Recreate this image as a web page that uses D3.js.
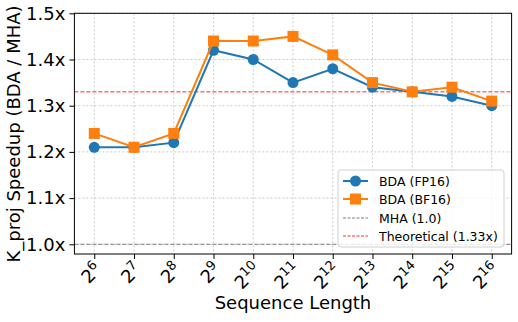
<!DOCTYPE html>
<html><head><meta charset="utf-8">
<script src="https://cdn.jsdelivr.net/npm/d3@7"></script>
<style>body{margin:0;background:#fff}svg{display:block}text{font-family:"DejaVu Sans",sans-serif}</style>
</head><body>
<svg id="c" width="518" height="322"></svg>
<script>
const exponents = [6,7,8,9,10,11,12,13,14,15,16];
const fp16 = [1.21,1.21,1.22,1.42,1.40,1.35,1.38,1.34,1.33,1.32,1.30];
const bf16 = [1.24,1.21,1.24,1.44,1.44,1.45,1.41,1.35,1.33,1.34,1.31];
const yTicks = [1.0,1.1,1.2,1.3,1.4,1.5];
const mhaLevel = 1.0, theoLevel = 1.33;
const legendLabels = ["BDA (FP16)","BDA (BF16)","MHA (1.0)","Theoretical (1.33x)"];

const svg = d3.select("#c");
const L=74.4, R=511.6, T=13.3, B=254;
const x = d3.scaleLinear().domain([5.5,16.5]).range([L,R]);
const y = d3.scaleLinear().domain([1.5-(B-T)/(244.3-13.3)*0.5,1.5]).range([B,T]);

// grid
const g = svg.append("g");
g.selectAll(".gx").data(exponents).join("line")
 .attr("x1",d=>x(d)).attr("x2",d=>x(d)).attr("y1",T).attr("y2",B)
 .attr("stroke","#b0b0b0").attr("stroke-width",0.8).attr("stroke-dasharray","2,2").attr("opacity",0.8);
g.selectAll(".gy").data(yTicks).join("line")
 .attr("x1",L).attr("x2",R).attr("y1",d=>y(d)).attr("y2",d=>y(d))
 .attr("stroke","#b0b0b0").attr("stroke-width",0.8).attr("stroke-dasharray","2,2").attr("opacity",0.8);

// reference lines
svg.append("line").attr("x1",L).attr("x2",R).attr("y1",y(mhaLevel)).attr("y2",y(mhaLevel))
 .attr("stroke","#808080").attr("stroke-width",1).attr("stroke-dasharray","4,2");
svg.append("line").attr("x1",L).attr("x2",R).attr("y1",y(theoLevel)).attr("y2",y(theoLevel))
 .attr("stroke","#ff2a2a").attr("stroke-width",1).attr("stroke-dasharray","4,2");

const line = d3.line().x((d,i)=>x(exponents[i])).y(d=>y(d));
svg.append("path").datum(fp16).attr("d",line).attr("fill","none").attr("stroke","#1f77b4").attr("stroke-width",2);
svg.selectAll(".c").data(fp16).join("circle").attr("cx",(d,i)=>x(exponents[i])).attr("cy",d=>y(d)).attr("r",5.5).attr("fill","#1f77b4");
svg.append("path").datum(bf16).attr("d",line).attr("fill","none").attr("stroke","#ff7f0e").attr("stroke-width",2);
const s=11;
svg.selectAll(".s").data(bf16).join("rect").attr("x",(d,i)=>x(exponents[i])-s/2).attr("y",d=>y(d)-s/2).attr("width",s).attr("height",s).attr("fill","#ff7f0e");

// axes
const yAxis = d3.axisLeft(y).tickValues(yTicks).tickFormat(d=>d.toFixed(1)+"x").tickSize(5).tickPadding(4);
const ya = svg.append("g").attr("transform",`translate(${L},0)`).call(yAxis);
ya.select(".domain").remove();
ya.selectAll("text").attr("font-size",18).attr("fill","#000").style("font-family","DejaVu Sans");
ya.selectAll("line").attr("stroke","#000").attr("stroke-width",1);

const xAxis = d3.axisBottom(x).tickValues(exponents).tickFormat("").tickSize(5);
const xa = svg.append("g").attr("transform",`translate(0,${B})`).call(xAxis);
xa.select(".domain").remove();
xa.selectAll("line").attr("stroke","#000");
exponents.forEach(e=>{
  const t = svg.append("text").attr("transform",`translate(${x(e)+8.5},${B+16.5}) rotate(-45)`)
   .attr("text-anchor","end").attr("font-size",18).attr("fill","#000");
  t.append("tspan").text("2");
  t.append("tspan").attr("dy",-7).attr("font-size",13).text(e);
});

// frame
svg.append("rect").attr("x",L).attr("y",T).attr("width",R-L).attr("height",B-T).attr("fill","none").attr("stroke","#000").attr("stroke-width",1);

svg.append("text").attr("x",(L+R)/2).attr("y",309).attr("text-anchor","middle").attr("font-size",18).text("Sequence Length");
svg.append("text").attr("transform",`translate(20,134) rotate(-90)`).attr("text-anchor","middle").attr("font-size",18).text("K_proj Speedup (BDA / MHA)");

// legend
const lg = svg.append("g");
lg.append("rect").attr("x",338).attr("y",170).attr("width",166).attr("height",77).attr("rx",3)
 .attr("fill","#fff").attr("fill-opacity",0.8).attr("stroke","#d0d0d0").attr("stroke-width",1);
const rows=[181,199,218,236];
const hx1=343, hx2=368;
lg.append("line").attr("x1",hx1).attr("x2",hx2).attr("y1",rows[0]).attr("y2",rows[0]).attr("stroke","#1f77b4").attr("stroke-width",2);
lg.append("circle").attr("cx",(hx1+hx2)/2).attr("cy",rows[0]).attr("r",5.5).attr("fill","#1f77b4");
lg.append("line").attr("x1",hx1).attr("x2",hx2).attr("y1",rows[1]).attr("y2",rows[1]).attr("stroke","#ff7f0e").attr("stroke-width",2);
lg.append("rect").attr("x",(hx1+hx2)/2-s/2).attr("y",rows[1]-s/2).attr("width",s).attr("height",s).attr("fill","#ff7f0e");
lg.append("line").attr("x1",hx1).attr("x2",hx2).attr("y1",rows[2]).attr("y2",rows[2]).attr("stroke","#808080").attr("stroke-width",1).attr("stroke-dasharray","3,1.5");
lg.append("line").attr("x1",hx1).attr("x2",hx2).attr("y1",rows[3]).attr("y2",rows[3]).attr("stroke","#ff2a2a").attr("stroke-width",1).attr("stroke-dasharray","3,1.5");
legendLabels.forEach((t,i)=>{
  lg.append("text").attr("x",379).attr("y",rows[i]+4.5).attr("font-size",12.5).attr("fill","#000").text(t);
});
</script>
</body></html>
